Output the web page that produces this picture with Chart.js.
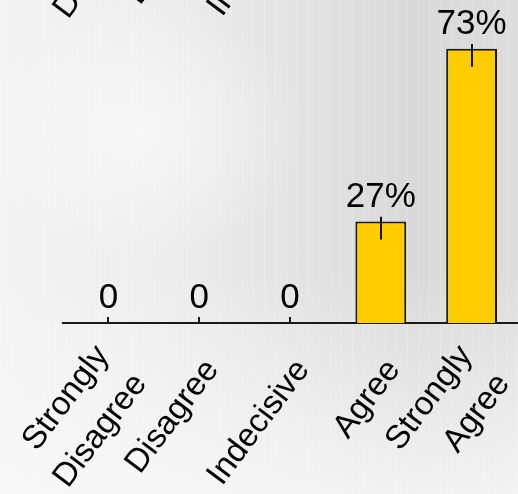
<!DOCTYPE html>
<html>
<head>
<meta charset="utf-8">
<script src="https://cdn.jsdelivr.net/npm/chart.js@4"></script>
<style>
  html, body { margin: 0; padding: 0; }
  body {
    width: 518px; height: 494px; overflow: hidden;
    background:
      linear-gradient(180deg, rgba(255,255,255,0) 55%, rgba(250,250,250,0.75) 100%),
      radial-gradient(ellipse 240px 190px at 140px 130px, rgba(255,255,255,0.55), rgba(255,255,255,0) 70%),
      repeating-linear-gradient(90deg, rgba(255,255,255,0.18) 0 1px, rgba(255,255,255,0) 1px 11px),
      linear-gradient(90deg, #f3f3f3 0%, #ededed 30%, #e4e4e4 55%, #d9d9d9 80%, #dddddd 100%);
  }
  #wrap { position: relative; width: 518px; height: 494px; }
</style>
</head>
<body>
<div id="wrap"><canvas id="grafico" width="518" height="494"></canvas></div>
<script>
const categories = [['Strongly', 'Disagree'], ['Disagree'], ['Indecisive'], ['Agree'], ['Strongly', 'Agree']];
const values = [0, 0, 0, 27, 73];
const errUp = [0, 0, 0, 1.3, 1.3];
const errDown = [0, 0, 0, 4.8, 4.8];
const valueLabels = ['0', '0', '0', '27%', '73%'];

const FONT = '35px "Liberation Sans", Arial, sans-serif';
const TICK_FONT = '33px "Liberation Sans", Arial, sans-serif';
const ANGLE = 53 * Math.PI / 180;
const LINE = 47;

// ticks, error bars, value labels and rotated category labels
const extras = {
  id: 'extras',
  beforeDatasetsDraw(chart) {
    const ctx = chart.ctx;
    const x = chart.scales.x;
    const base = chart.chartArea.bottom;
    ctx.save();
    ctx.strokeStyle = '#1a1a1a';
    ctx.lineWidth = 2;
    categories.forEach((c, i) => {
      const px = Math.round(x.getPixelForValue(i));
      ctx.beginPath();
      ctx.moveTo(px, base);
      ctx.lineTo(px, base - 6);
      ctx.stroke();
    });
    ctx.restore();
  },
  afterDatasetsDraw(chart) {
    const ctx = chart.ctx;
    const x = chart.scales.x, y = chart.scales.y;
    const base = chart.chartArea.bottom;
    ctx.save();

    ctx.strokeStyle = '#111';
    ctx.lineWidth = 2;
    values.forEach((v, i) => {
      if (!errUp[i] && !errDown[i]) return;
      const px = Math.round(x.getPixelForValue(i));
      ctx.beginPath();
      ctx.moveTo(px, y.getPixelForValue(v + errUp[i]));
      ctx.lineTo(px, y.getPixelForValue(v - errDown[i]));
      ctx.stroke();
    });

    ctx.font = FONT;
    ctx.fillStyle = '#000';
    ctx.textAlign = 'center';
    ctx.textBaseline = 'alphabetic';
    values.forEach((v, i) => {
      ctx.fillText(valueLabels[i], x.getPixelForValue(i), y.getPixelForValue(v) - 15);
    });

    // second pass draws the labels of the panel above, cut by the top edge
    ctx.font = TICK_FONT;
    [0, -469].forEach(dy => {
      categories.forEach((lines, i) => {
        ctx.save();
        ctx.translate(x.getPixelForValue(i) + 13, base + 41 + dy);
        ctx.rotate(-ANGLE);
        ctx.textAlign = 'right';
        ctx.textBaseline = 'middle';
        lines.forEach((l, j) => ctx.fillText(l, 0, (j - (lines.length - 1) / 2) * LINE));
        ctx.restore();
      });
    });
    ctx.restore();
  }
};

new Chart(document.getElementById('grafico'), {
  type: 'bar',
  data: {
    labels: categories,
    datasets: [{
      data: values,
      backgroundColor: '#FFCC00',
      borderColor: '#1a1a1a',
      borderWidth: 2,
      barPercentage: 0.56,
      categoryPercentage: 1
    }]
  },
  options: {
    responsive: false,
    animation: false,
    layout: { padding: { left: 63, right: 1, top: 0, bottom: 0 } },
    plugins: { legend: { display: false }, tooltip: { enabled: false } },
    scales: {
      x: {
        grid: { display: false },
        border: { color: '#1a1a1a', width: 2 },
        ticks: { display: false },
        afterFit(s) { s.height = 171; s.paddingLeft = 0; s.paddingRight = 0; }
      },
      y: { display: false, min: 0, max: 86 }
    }
  },
  plugins: [extras]
});
</script>
</body>
</html>
